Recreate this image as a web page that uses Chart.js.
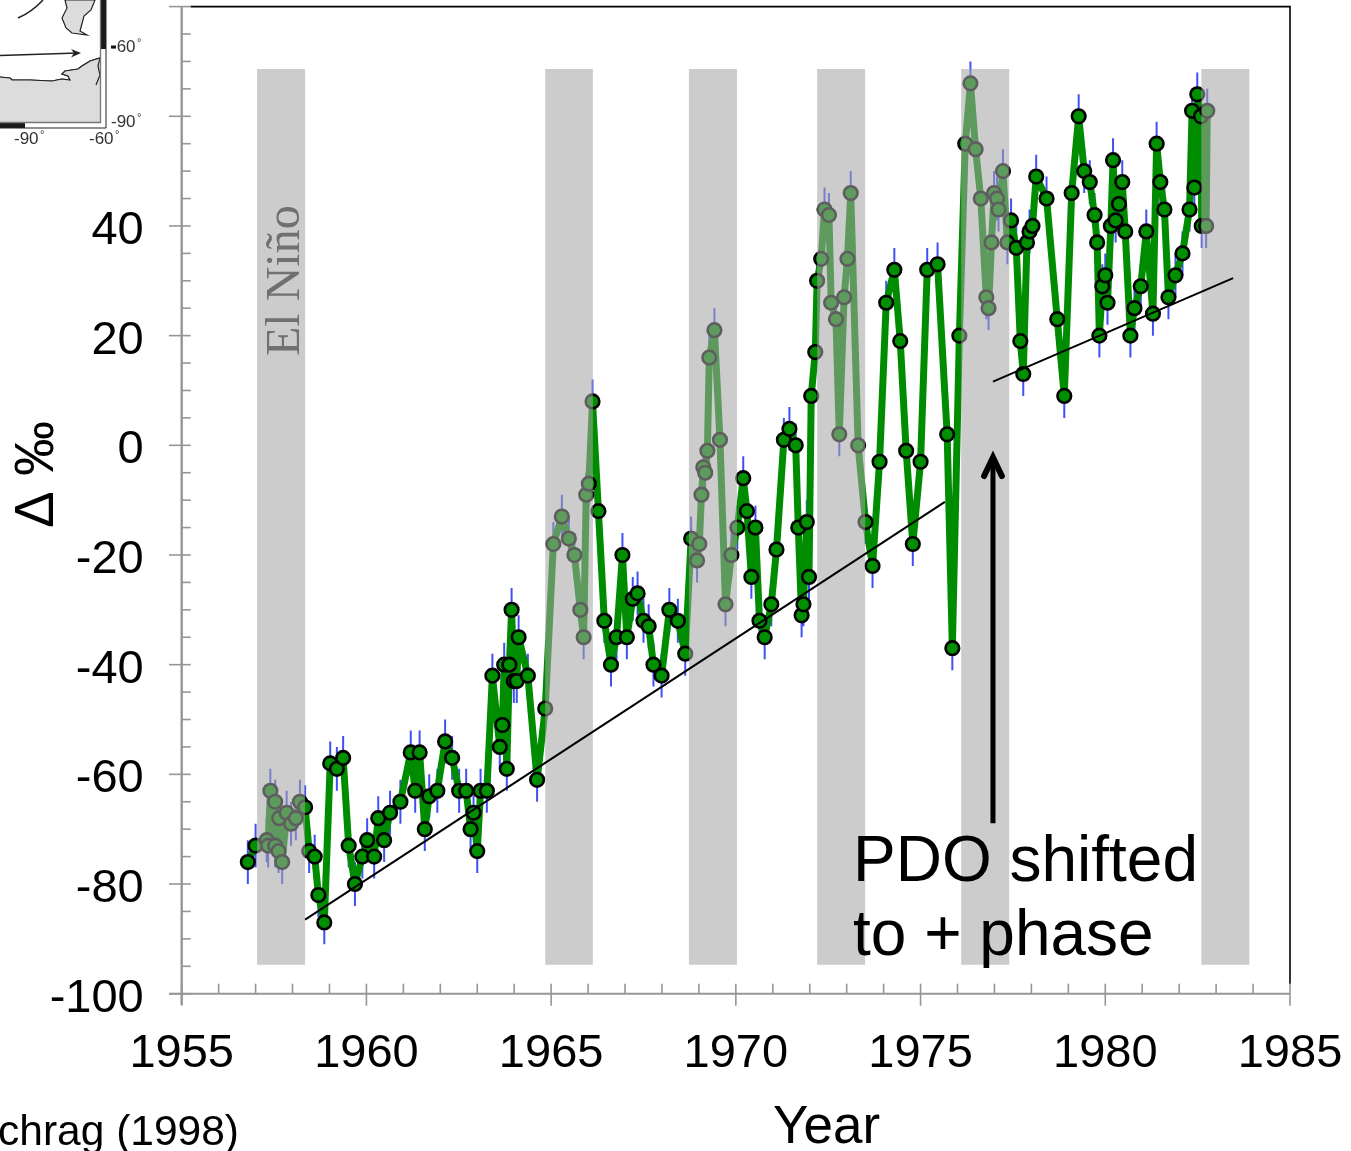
<!DOCTYPE html>
<html>
<head>
<meta charset="utf-8">
<style>html,body{margin:0;padding:0;background:#fff}canvas{display:block}</style>
<script src="https://cdn.jsdelivr.net/npm/chart.js@4"></script>
</head>
<body>
<canvas id="c" width="1351" height="1151"></canvas>
<script>
const years = [1956.79,1957.00,1957.30,1957.34,1957.40,1957.53,1957.53,1957.62,1957.64,1957.72,1957.84,1957.96,1958.09,1958.20,1958.34,1958.45,1958.60,1958.70,1958.86,1959.02,1959.20,1959.37,1959.52,1959.69,1959.89,1960.02,1960.21,1960.32,1960.48,1960.64,1960.92,1961.20,1961.32,1961.44,1961.58,1961.70,1961.92,1962.13,1962.32,1962.51,1962.70,1962.82,1962.90,1963.00,1963.09,1963.26,1963.41,1963.61,1963.68,1963.73,1963.80,1963.87,1963.93,1963.99,1964.07,1964.12,1964.37,1964.62,1964.84,1965.06,1965.29,1965.48,1965.63,1965.79,1965.88,1965.95,1966.02,1966.12,1966.28,1966.44,1966.62,1966.77,1966.93,1967.05,1967.21,1967.34,1967.50,1967.64,1967.77,1967.99,1968.20,1968.43,1968.63,1968.79,1968.95,1969.01,1969.07,1969.12,1969.17,1969.23,1969.28,1969.42,1969.57,1969.72,1969.88,1970.04,1970.20,1970.30,1970.42,1970.53,1970.64,1970.78,1970.96,1971.10,1971.30,1971.45,1971.62,1971.69,1971.78,1971.83,1971.92,1971.98,1972.04,1972.15,1972.20,1972.31,1972.40,1972.52,1972.58,1972.71,1972.80,1972.93,1973.02,1973.11,1973.31,1973.51,1973.70,1973.89,1974.07,1974.29,1974.45,1974.61,1974.79,1975.00,1975.18,1975.46,1975.72,1975.86,1976.05,1976.21,1976.35,1976.49,1976.63,1976.78,1976.84,1976.92,1976.99,1977.07,1977.11,1977.23,1977.35,1977.45,1977.59,1977.70,1977.78,1977.88,1977.95,1978.03,1978.13,1978.41,1978.70,1978.89,1979.09,1979.28,1979.43,1979.58,1979.71,1979.78,1979.84,1979.92,1980.00,1980.06,1980.15,1980.21,1980.28,1980.37,1980.46,1980.54,1980.68,1980.79,1980.96,1981.11,1981.29,1981.39,1981.49,1981.60,1981.71,1981.90,1982.09,1982.28,1982.35,1982.41,1982.49,1982.59,1982.61,1982.73,1982.76];
const delta = [-76,-73,-72,-73,-63,-65,-73,-74,-68,-76,-67,-69,-68,-65,-66,-74,-75,-82,-87,-58,-59,-57,-73,-80,-75,-72,-75,-68,-72,-67,-65,-56,-63,-56,-70,-64,-63,-54,-57,-63,-63,-70,-67,-74,-63,-63,-42,-55,-51,-40,-59,-40,-30,-43,-43,-35,-42,-61,-48,-18,-13,-17,-20,-30,-35,-9,-7,8,-12,-32,-40,-35,-20,-35,-28,-27,-32,-33,-40,-42,-30,-32,-38,-17,-21,-18,-9,-4,-5,-1,16,21,1,-29,-20,-15,-6,-12,-24,-15,-32,-35,-29,-19,1,3,0,-15,-31,-29,-14,-24,9,17,30,34,43,42,26,23,2,27,34,46,0,-14,-22,-3,26,32,19,-1,-18,-3,32,33,2,-37,20,55,66,54,45,27,25,37,46,45,43,50,37,41,36,19,13,37,39,40,49,45,23,9,46,60,50,48,42,37,20,29,31,26,40,52,41,44,48,39,20,25,29,39,24,55,48,43,27,31,35,43,61,47,64,60,40,40,61];
const errorHalf = 4;
const bandStarts = [1957.04,1964.84,1968.73,1972.20,1976.10,1982.60];
const bandEnds   = [1958.34,1966.13,1970.03,1973.50,1977.40,1983.90];
const bandRange  = [-94.7,68.6];
const trendA = [{x:1958.34,y:-86.5},{x:1975.66,y:-10.3}];
const trendB = [{x:1976.96,y:11.6},{x:1983.46,y:30.5}];
const arrowShaft = [{x:1976.96,y:-68.9},{x:1976.96,y:-3}];
const arrowHead  = [{x:1976.72,y:-5.6},{x:1976.96,y:-2.2},{x:1977.20,y:-5.6}];

const err = [];
years.forEach((x,i)=>{ err.push({x,y:delta[i]-errorHalf},{x,y:delta[i]+errorHalf},{x,y:null}); });

const bandSets = bandStarts.map((s,i)=>({
  type:'line', order:2,
  data:[{x:s,y:bandRange[0]},{x:s,y:bandRange[1]},{x:bandEnds[i],y:bandRange[1]},{x:bandEnds[i],y:bandRange[0]}],
  fill:'shape', backgroundColor:'rgba(166,166,166,0.57)', borderWidth:0, borderColor:'rgba(0,0,0,0)', pointRadius:0, tension:0
}));
const plainLine = (data,w,order,extra)=>Object.assign({type:'line',order,data,borderColor:'#000',borderWidth:w,pointRadius:0,fill:false,tension:0},extra||{});

const GREY='#969696';
const furniture = {
  id:'furniture',
  beforeDatasetsDraw(chart){
    const {ctx,chartArea:a,scales:{x,y}}=chart;
    ctx.save();
    ctx.strokeStyle=GREY; ctx.lineWidth=1.6;
    y.ticks.forEach(t=>{
      const p=y.getPixelForValue(t.value), major=t.value%20===0;
      ctx.beginPath(); ctx.moveTo(major?169:a.left,p); ctx.lineTo(a.left+9,p); ctx.stroke();
    });
    x.ticks.forEach(t=>{
      const p=x.getPixelForValue(t.value), major=t.value%5===0;
      ctx.beginPath(); ctx.moveTo(p,a.bottom-10); ctx.lineTo(p,major?a.bottom+12:a.bottom); ctx.stroke();
    });
    ctx.lineWidth=2.4;
    ctx.beginPath(); ctx.moveTo(a.left,a.top); ctx.lineTo(a.left,a.bottom+11); ctx.stroke();
    ctx.lineWidth=2;
    ctx.beginPath(); ctx.moveTo(169,a.bottom); ctx.lineTo(a.right,a.bottom); ctx.stroke();
    ctx.strokeStyle='#000'; ctx.lineWidth=1.6;
    ctx.beginPath(); ctx.moveTo(a.left+9,a.top); ctx.lineTo(a.right,a.top); ctx.lineTo(a.right,a.bottom-10); ctx.stroke();
    ctx.restore();
  },
  afterDraw(chart){
    const ctx=chart.ctx;
    ctx.save();
    const sans='"Liberation Sans", Arial, sans-serif';
    ctx.fillStyle='#000'; ctx.textBaseline='alphabetic'; ctx.textAlign='left';
    ctx.font='64px '+sans;
    ctx.fillText('PDO shifted',853,881);
    ctx.fillText('to + phase',853,955);
    ctx.font='53px '+sans;
    ctx.fillText('Year',773,1143);
    ctx.font='42.5px '+sans; ctx.textAlign='right';
    ctx.fillText('chrag (1998)',239,1145);
    // rotated labels
    ctx.textAlign='left';
    ctx.save(); ctx.translate(53,528); ctx.rotate(-Math.PI/2);
    ctx.font='55px '+sans; ctx.fillText('Δ ‰',0,0); ctx.restore();
    ctx.save(); ctx.translate(299,356); ctx.rotate(-Math.PI/2);
    ctx.fillStyle='#707070'; ctx.font='48px "Liberation Serif", serif'; ctx.fillText('El Niño',0,0); ctx.restore();
    // map inset
    ctx.fillStyle='#dcdcdc'; ctx.strokeStyle='#222'; ctx.lineWidth=1.2;
    ctx.beginPath(); ctx.moveTo(0,77);
    [[10,78],[12,80],[30,80],[52,81],[62,79],[70,80],[68,76],[62,74],[65,71],[78,69],[82,66],[90,61],[100,58]].forEach(p=>ctx.lineTo(p[0],p[1]));
    ctx.stroke();
    ctx.lineTo(100,122); ctx.lineTo(0,122); ctx.closePath(); ctx.fill();
    ctx.beginPath(); ctx.moveTo(0,77);
    [[10,78],[12,80],[30,80],[52,81],[62,79],[70,80],[68,76],[62,74],[65,71],[78,69],[82,66],[90,61],[100,58],[98,66],[100,75],[96,85]].forEach(p=>ctx.lineTo(p[0],p[1]));
    ctx.stroke();
    ctx.beginPath(); ctx.moveTo(65,0);
    [[67,8],[62,18],[66,28],[72,33],[87,35],[80,31],[84,16],[91,10],[95,0]].forEach(p=>ctx.lineTo(p[0],p[1]));
    ctx.closePath(); ctx.fill(); ctx.stroke();
    ctx.lineWidth=1.5;
    ctx.beginPath(); ctx.moveTo(18,18); ctx.quadraticCurveTo(32,12,43,0); ctx.stroke();
    ctx.beginPath(); ctx.moveTo(0,55.5); ctx.lineTo(78,53); ctx.stroke();
    ctx.fillStyle='#222'; ctx.beginPath(); ctx.moveTo(81,53); ctx.lineTo(71,49); ctx.lineTo(74,53); ctx.lineTo(71,57.5); ctx.closePath(); ctx.fill();
    ctx.fillStyle='#fff'; ctx.fillRect(101,49,5,73); ctx.fillRect(25,123,81,5);
    ctx.fillStyle='#1a1a1a'; ctx.fillRect(101,0,5,49); ctx.fillRect(0,123,25,5);
    ctx.strokeStyle='#777'; ctx.lineWidth=1.3;
    ctx.beginPath(); ctx.moveTo(100.5,0); ctx.lineTo(100.5,122.5); ctx.lineTo(0,122.5); ctx.stroke();
    ctx.strokeStyle='#222'; ctx.lineWidth=1;
    ctx.beginPath(); ctx.moveTo(106,0); ctx.lineTo(106,128); ctx.lineTo(0,128); ctx.stroke();
    ctx.fillStyle='#333'; ctx.font='17px '+sans; ctx.textAlign='left';
    ctx.fillText('-60',111,52); ctx.fillText('-90',111,127);
    ctx.fillText('-90',14,144); ctx.fillText('-60',89,144);
    ctx.font='11px '+sans;
    ctx.fillText('°',137,46); ctx.fillText('°',137,121); ctx.fillText('°',40,138); ctx.fillText('°',115,138);
    ctx.fillStyle='#111'; ctx.fillRect(111,45.5,5,3);
    ctx.restore();
  }
};

new Chart(document.getElementById('c'),{
  type:'line',
  data:{datasets:[
    plainLine(arrowShaft,5,0,{borderCapStyle:'butt'}),
    plainLine(arrowHead,6,0,{borderCapStyle:'round',borderJoinStyle:'miter'}),
    plainLine(trendA,2,1),
    plainLine(trendB,2,1),
    ...bandSets,
    {type:'line',order:3,label:'Δ‰',data:years.map((x,i)=>({x,y:delta[i]})),
     borderColor:'#008c00',borderWidth:7,tension:0,fill:false,borderJoinStyle:'round',
     pointRadius:6.8,pointBorderWidth:2.6,pointBorderColor:'#000',pointBackgroundColor:'#008f00'},
    {type:'line',order:4,label:'error',data:err,borderColor:'#4050f5',borderWidth:2,pointRadius:0,fill:false,spanGaps:false,tension:0}
  ]},
  options:{
    responsive:false,animation:false,events:[],
    layout:{autoPadding:false,padding:{left:0,top:6.6,right:61,bottom:0}},
    plugins:{legend:{display:false},tooltip:{enabled:false},title:{display:false}},
    scales:{
      x:{type:'linear',min:1955,max:1985,
        grid:{display:false,drawTicks:false},border:{display:false},
        afterFit(s){s.height=157.3;s.paddingLeft=0;s.paddingRight=0;s.paddingTop=0;s.paddingBottom=0;},
        ticks:{stepSize:1,autoSkip:false,maxRotation:0,padding:32,color:'#000',
          font:{family:'"Liberation Sans", Arial, sans-serif',size:47},
          callback:v=>v%5===0?String(v):''}},
      y:{type:'linear',min:-100,max:80,
        grid:{display:false,drawTicks:false},border:{display:false},
        afterFit(s){s.width=181.7;s.paddingLeft=0;s.paddingRight=0;s.paddingTop=0;s.paddingBottom=0;},
        ticks:{stepSize:5,autoSkip:false,padding:38,labelOffset:5,color:'#000',
          font:{family:'"Liberation Sans", Arial, sans-serif',size:47},
          callback:v=>(v%20===0&&v<=40)?String(v):''}}
    }
  },
  plugins:[furniture]
});
</script>
</body>
</html>
